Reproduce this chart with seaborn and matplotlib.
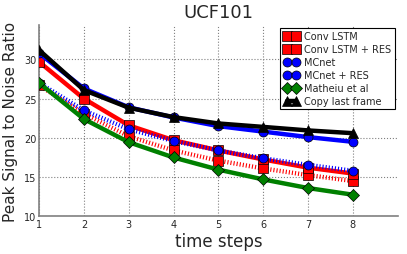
import matplotlib
matplotlib.use("Agg")
import matplotlib.pyplot as plt
import seaborn as sns
import pandas as pd

steps = [1, 2, 3, 4, 5, 6, 7, 8]
conv_lstm = [26.7, 23.1, 20.2, 18.4, 17.1, 16.1, 15.25, 14.5]
conv_lstm_res = [29.7, 25.0, 21.6, 19.7, 18.4, 17.25, 16.2, 15.45]
mcnet = [27.0, 23.5, 21.1, 19.6, 18.4, 17.4, 16.55, 15.8]
mcnet_res = [30.8, 26.3, 23.9, 22.6, 21.5, 20.8, 20.1, 19.5]
mathieu = [27.0, 22.4, 19.45, 17.5, 15.95, 14.7, 13.6, 12.75]
copy_last = [31.2, 26.1, 23.85, 22.65, 21.84, 21.4, 20.95, 20.6]

dotted = (0, (0.25, 0.45))
series = [
    ("Conv LSTM", conv_lstm, "red", dotted, "s"),
    ("Conv LSTM + RES", conv_lstm_res, "red", "-", "s"),
    ("MCnet", mcnet, "blue", dotted, "o"),
    ("MCnet + RES", mcnet_res, "blue", "-", "o"),
    ("Matheiu et al", mathieu, "green", "-", "D"),
    ("Copy last frame", copy_last, "black", "-", "^"),
]

sns.set_style("white")
plt.rcParams['font.family'] = ['DejaVu Sans']

fig = plt.figure(figsize=(4.07, 2.55), dpi=100)
ax = fig.add_axes([0.096, 0.148, 0.881, 0.75])

for name, vals, color, ls, mk in series:
    df = pd.DataFrame({"step": steps, "psnr": vals})
    sns.lineplot(data=df, x="step", y="psnr", ax=ax, color=color, linestyle=ls,
                 linewidth=3.2, marker=mk, markersize=6.5, markeredgecolor="black",
                 markeredgewidth=0.5, label=name, zorder=3)

ax.set_xlim(1, 9)
ax.set_ylim(10, 34.4)
ax.set_xticks(steps)
ax.set_yticks([10, 15, 20, 25, 30])
ax.tick_params(axis="both", labelsize=7, length=0, pad=2)
ax.grid(True, linestyle=":", color="gray", linewidth=0.8)
ax.set_axisbelow(True)
for s in ["top", "right"]:
    ax.spines[s].set_visible(False)
for s in ["left", "bottom"]:
    ax.spines[s].set_color("gray")
    ax.spines[s].set_linewidth(1.2)

ax.set_title("UCF101", fontsize=13, pad=6)
ax.set_xlabel("time steps", fontsize=12, labelpad=2)
ax.set_ylabel("Peak Signal to Noise Ratio", fontsize=11, labelpad=4)

leg = ax.legend(loc="upper right", fontsize=7, frameon=True, fancybox=False,
                edgecolor="black", framealpha=1, borderaxespad=0.3,
                numpoints=2, handlelength=1.6, handletextpad=0.5,
                labelspacing=0.3, borderpad=0.35)
leg.get_frame().set_linewidth(0.8)

fig.savefig("out.png", dpi=100)
